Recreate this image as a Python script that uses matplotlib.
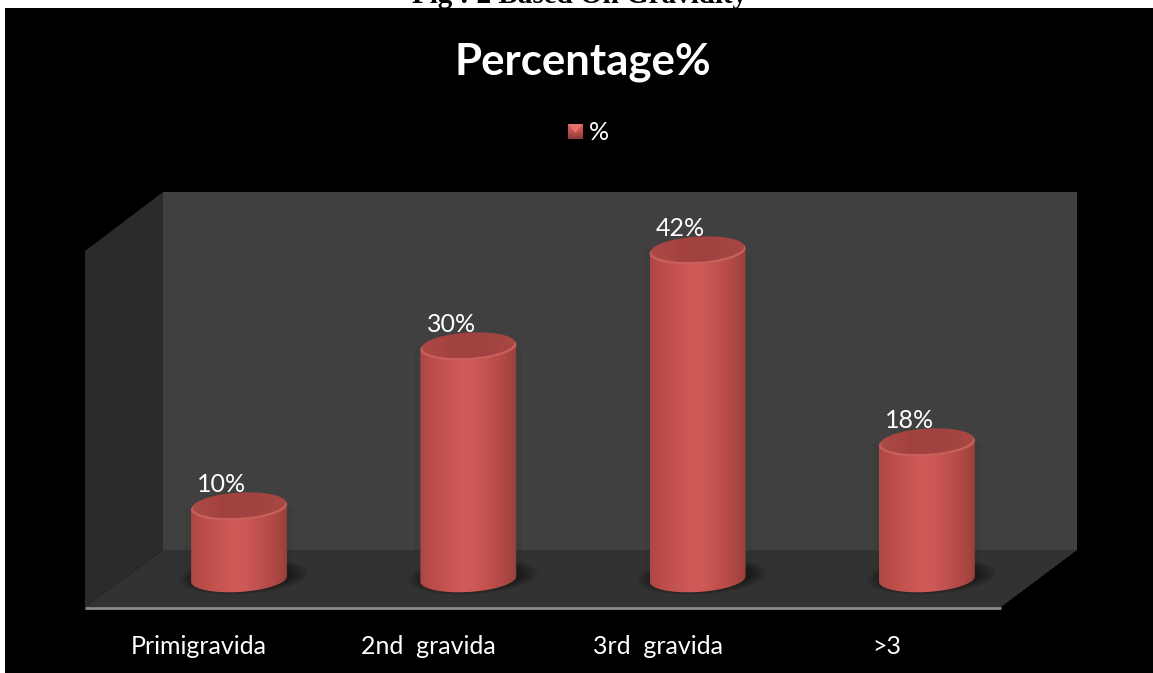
import numpy as np
import matplotlib
matplotlib.use('Agg')
import matplotlib.pyplot as plt
from matplotlib.colors import LinearSegmentedColormap
from matplotlib.patches import Polygon, Rectangle

# chart values
categories = ['Primigravida', '2nd  gravida', '3rd  gravida', '>3']
percent = [10, 30, 42, 18]
series_name = '%'
chart_title = 'Percentage%'
caption = 'Fig : 2 Based On Gravidity'

W, H = 1153, 673
font = ['Lato', 'DejaVu Sans']

# scale of the value axes, in pixels per unit
px_x = 229.3
px_y = 8.0
zero_y = 587.0
floor_val = 1.0
rx, ry = 48.0, 13.0
tilt = np.radians(3.5)

fig = plt.figure(figsize=(W / 100, H / 100), dpi=100, facecolor='white')

# room behind the chart, in pixel coordinates
bg = fig.add_axes([0, 0, 1, 1])
bg.set_xlim(0, W)
bg.set_ylim(H, 0)
bg.axis('off')
bg.text(579, 3, caption, ha='center', va='baseline', fontsize=21, fontweight='bold',
        family='Liberation Serif', color='black')
bg.add_patch(Rectangle((5, 8), W - 5, H - 8, fc='black', ec='none'))
bg.add_patch(Polygon([(163, 192), (1077, 192), (1077, 550), (163, 550)], fc='#404040', ec='none'))
bg.add_patch(Polygon([(85, 251), (163, 192), (163, 550), (85, 607)], fc='#2b2b2b', ec='none'))
bg.add_patch(Polygon([(163, 550), (1077, 550), (1001, 607), (85, 607)], fc='#323232', ec='none'))
bg.plot([85, 1001], [608, 608], color='#8c8c8c', lw=2, solid_capstyle='butt')
bg.text(583, 62, chart_title, ha='center', va='center', fontsize=31.5, fontweight='bold',
        family=font, color='white')

# legend swatch
swatch = LinearSegmentedColormap.from_list('sw', ['#d9605c', '#c0504d', '#8f3b39'])
bg.imshow(np.linspace(0, 1, 16).reshape(-1, 1), extent=(568, 583, 139, 124), cmap=swatch, aspect='auto', zorder=3)
bg.add_patch(Polygon([(568, 124), (583, 124), (575.5, 133)], fc='#e2716c', ec='none', zorder=4))
bg.text(599, 133, series_name, ha='center', va='center', fontsize=18, family=font, color='white')
bg.set_xlim(0, W)
bg.set_ylim(H, 0)

# value axes: x is category index, y is percent
left = (239 - 0.5 * px_x) / W
span = 4 * px_x / W
ax = fig.add_axes([left, 0, span, (H - 192) / H])
ax.patch.set_alpha(0)
ax.axis('off')

body_cmap = LinearSegmentedColormap.from_list('body', [
    (0.0, '#ad4743'), (0.12, '#bb4d49'), (0.45, '#d15a57'), (0.58, '#cd5855'),
    (0.8, '#b84c48'), (0.95, '#a3443f'), (1.0, '#96403c')])
top_cmap = LinearSegmentedColormap.from_list('top', ['#ad4a47', '#a2423f', '#a04340', '#a94845'])


def ellipse(cx, val, scale=1.0, t=None):
    # tilted ellipse, returned in data units
    if t is None:
        t = np.linspace(0, 2 * np.pi, 120)
    ex = rx * scale * np.cos(t)
    ey = ry * scale * np.sin(t)
    dx = ex * np.cos(tilt) - ey * np.sin(tilt)
    dy = ex * np.sin(tilt) + ey * np.cos(tilt)
    return np.column_stack([cx + dx / px_x, val + dy / px_y])


for i, v in enumerate(percent):
    # soft shadow on the floor
    for s in np.linspace(1.36, 1.02, 10):
        ax.add_patch(Polygon(ellipse(i + 0.02, floor_val + 0.3, s), fc='black', ec='none', alpha=0.045, zorder=1))
    # faint halo on the back wall
    ax.add_patch(Rectangle((i - 54 / px_x, floor_val), 108 / px_x, v - floor_val,
                           fc='black', ec='none', alpha=0.03, zorder=1))

    # cylinder side, gradient clipped to its outline
    lower = ellipse(i, floor_val, t=np.linspace(np.pi, 2 * np.pi, 60))
    upper_arc = ellipse(i, v, t=np.linspace(0, np.pi, 60))
    clip = Polygon(np.vstack([lower, upper_arc]), transform=ax.transData, fc='none', ec='none')
    ax.add_patch(clip)
    im = ax.imshow(np.linspace(0, 1, 128).reshape(1, -1), cmap=body_cmap, aspect='auto', zorder=2,
                   extent=(i - rx / px_x, i + rx / px_x, floor_val - 3, v + 3))
    im.set_clip_path(clip)

    # top face, the lighter rim shows only along its lower edge
    ax.add_patch(Polygon(ellipse(i, v), fc='#c9605b', ec='none', zorder=3))
    clip_top = Polygon(ellipse(i, v + 0.22, 0.97), transform=ax.transData, fc='none', ec='none')
    ax.add_patch(clip_top)
    im2 = ax.imshow(np.linspace(0, 1, 64).reshape(1, -1), cmap=top_cmap, aspect='auto', zorder=4,
                    extent=(i - rx / px_x, i + rx / px_x, v - 3, v + 3))
    im2.set_clip_path(clip_top)

    ax.annotate('{}%'.format(v), xy=(i, v), xytext=(-17, 22), textcoords='offset pixels',
                ha='center', va='center', fontsize=18, family=font, color='white', zorder=5)
    ax.annotate(categories[i], xy=(i, 0), xytext=(-40, -60), textcoords='offset pixels',
                ha='center', va='center', fontsize=18, family=font, color='white', zorder=5,
                annotation_clip=False)

ax.set_xlim(-0.5, 3.5)
ax.set_ylim((zero_y - H) / px_y, (zero_y - 192) / px_y)

fig.savefig('out.png', dpi=100, facecolor='white')
